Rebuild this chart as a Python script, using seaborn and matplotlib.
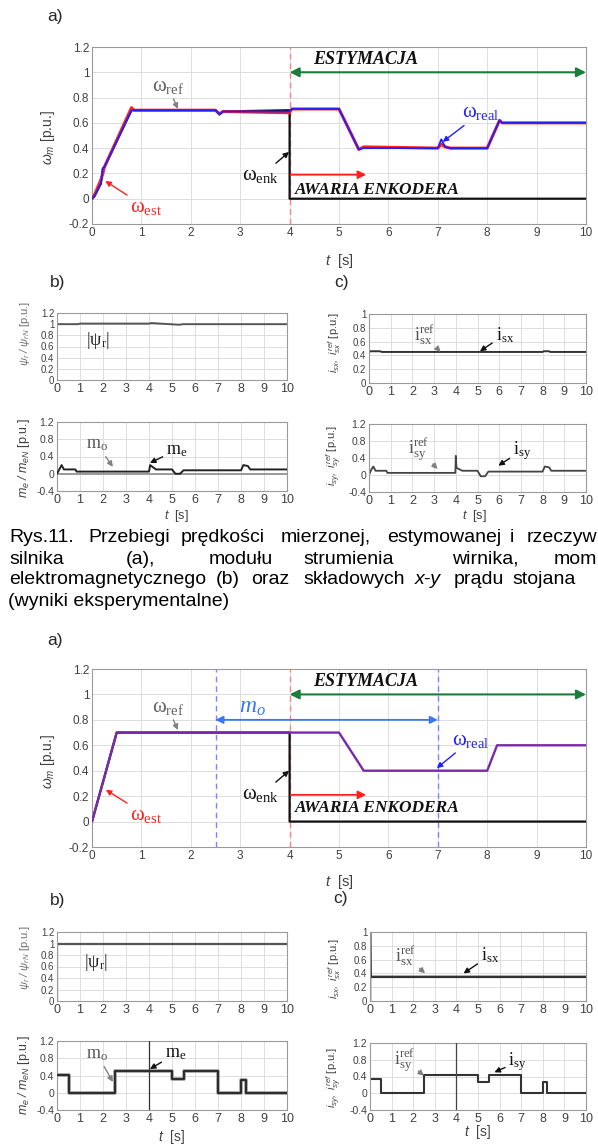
import matplotlib
matplotlib.use("Agg")
import matplotlib.pyplot as plt
import seaborn as sns

# ---------------- DATA ----------------
# Rys.11 (experiment) a) speed curves
exp_t = [0.0, 0.05, 0.18, 0.22, 0.25, 0.8, 0.85, 2.5, 2.58, 2.65, 3.99, 4.05, 5.0, 5.4, 5.5,
         7.0, 7.07, 7.15, 7.25, 8.0, 8.25, 8.3, 10.0]
exp_w_real = [0.0, 0.02, 0.12, 0.24, 0.25, 0.70, 0.70, 0.70, 0.665, 0.69, 0.69, 0.71, 0.71, 0.39, 0.40,
              0.40, 0.47, 0.41, 0.40, 0.40, 0.62, 0.60, 0.60]
exp_w_est = [0.0, 0.03, 0.15, 0.20, 0.25, 0.72, 0.70, 0.70, 0.67, 0.69, 0.68, 0.71, 0.71, 0.39, 0.41,
             0.40, 0.43, 0.41, 0.40, 0.40, 0.62, 0.60, 0.60]
exp_enk_t = [0.0, 0.05, 0.18, 0.22, 0.25, 0.8, 0.85, 2.5, 2.58, 2.65, 4.0, 4.0, 10.0]
exp_w_enk = [0.0, 0.02, 0.12, 0.24, 0.25, 0.70, 0.70, 0.70, 0.67, 0.69, 0.70, 0.0, 0.0]

# Rys.11 b) flux and torque
exp_psi_t = [0.0, 0.9, 1.0, 4.0, 4.1, 5.3, 5.5, 8.0, 10.0]
exp_psi = [1.0, 1.0, 1.01, 1.01, 1.02, 0.99, 1.0, 1.0, 1.0]
exp_me_t = [0.0, 0.1, 0.2, 0.3, 0.8, 0.85, 4.0, 4.05, 4.3, 5.0, 5.15, 5.35, 5.5, 8.0, 8.1, 8.3, 8.4, 10.0]
exp_me = [0.0, 0.1, 0.2, 0.1, 0.1, 0.05, 0.05, 0.2, 0.1, 0.1, 0.0, 0.0, 0.08, 0.08, 0.2, 0.18, 0.1, 0.1]
exp_mo_t = [0.0, 10.0]
exp_mo = [0.0, 0.0]

# Rys.11 c) stator current components
exp_isx_t = [0.0, 0.05, 0.5, 0.6, 8.0, 8.05, 8.3, 8.35, 10.0]
exp_isx = [0.44, 0.46, 0.46, 0.45, 0.45, 0.46, 0.46, 0.45, 0.45]
exp_isy_t = [0.0, 0.1, 0.2, 0.3, 0.8, 0.85, 3.98, 4.0, 4.03, 4.1, 4.3, 5.0, 5.15, 5.35, 5.5,
             8.0, 8.1, 8.3, 8.4, 10.0]
exp_isy = [0.0, 0.12, 0.2, 0.1, 0.1, 0.05, 0.05, 0.45, 0.18, 0.15, 0.1, 0.1, -0.03, -0.03, 0.08,
           0.08, 0.2, 0.18, 0.1, 0.1]

# simulation a)
sim_t = [0.0, 0.5, 5.0, 5.5, 8.0, 8.2, 10.0]
sim_w = [0.0, 0.7, 0.7, 0.4, 0.4, 0.6, 0.6]
sim_enk_t = [0.0, 0.5, 4.0, 4.0, 10.0]
sim_w_enk = [0.0, 0.7, 0.7, 0.0, 0.0]

# simulation b), c) (step levels between change times)
sim_psi_t = [0.0, 0.0, 10.0]
sim_psi = [0.0, 1.0, 1.0]
sim_step_t = [0.0, 0.5, 2.5, 5.0, 5.5, 7.0, 8.0, 8.2, 10.0]
sim_me_levels = [0.42, 0.0, 0.5, 0.33, 0.5, 0.0, 0.3, 0.0]
sim_isy_levels = [0.35, 0.0, 0.43, 0.27, 0.43, 0.0, 0.27, 0.0]
sim_isx_t = [0.0, 0.0, 0.02, 10.0]
sim_isx = [0.0, 1.0, 0.35, 0.35]

fault_t = 4.0
mo_window = [2.5, 7.0]
est_span = [4.0, 10.0]

x_ticks = list(range(11))
w_yticks = [-0.2, 0, 0.2, 0.4, 0.6, 0.8, 1, 1.2]
psi_yticks = [0, 0.2, 0.4, 0.6, 0.8, 1, 1.2]
me_yticks = [-0.4, 0, 0.4, 0.8, 1.2]
isx_yticks = [0, 0.2, 0.4, 0.6, 0.8, 1]

# ---------------- STYLE ----------------
sns.set_theme(style="whitegrid")
plt.rcParams['font.family'] = ['Liberation Sans', 'DejaVu Sans']
plt.rcParams['mathtext.fontset'] = 'custom'
plt.rcParams['mathtext.rm'] = 'Liberation Serif'
plt.rcParams['mathtext.it'] = 'Liberation Serif:italic'
plt.rcParams['mathtext.sf'] = 'Liberation Sans:italic'
plt.rcParams['mathtext.bf'] = 'Liberation Serif:bold'

W, H = 598, 1144
fig = plt.figure(figsize=(W / 100, H / 100), dpi=100)
fig.patch.set_facecolor('white')

GRAY = '#404040'
SERIF = 'Liberation Serif'


def px_axes(l, t, r, b):
    return fig.add_axes([l / W, 1 - b / H, (r - l) / W, (b - t) / H])


def style(ax, ylim, yticks, xfs, yfs):
    ax.set_facecolor('white')
    ax.set_xlim(0, 10)
    ax.set_ylim(*ylim)
    ax.set_xticks(x_ticks)
    ax.set_xticklabels([str(v) for v in x_ticks])
    ax.set_yticks(yticks)
    ax.set_yticklabels([f'{v:g}' for v in yticks])
    ax.tick_params(axis='x', labelsize=xfs, colors=GRAY, length=2, direction='in', pad=2)
    ax.tick_params(axis='y', labelsize=yfs, colors=GRAY, length=2, direction='in', pad=2)
    ax.grid(True, color='#dddddd', lw=0.7)
    for s in ax.spines.values():
        s.set_color('#9a9a9a')
        s.set_linewidth(0.8)
    ax.set_xlabel('')
    ax.set_ylabel('')


def line(ax, x, y, color, lw, z=2):
    sns.lineplot(x=x, y=y, ax=ax, color=color, lw=lw, estimator=None, sort=False,
                 legend=False, zorder=z)


def steps(times, levels):
    xs, ys = [], []
    for i, lv in enumerate(levels):
        xs += [times[i], times[i + 1]]
        ys += [lv, lv]
    return xs, ys


def ann(ax, txt, xy, xyt, color, fs, tcolor=None, **kw):
    ax.annotate(txt, xy=xy, xytext=xyt, color=tcolor or color, fontsize=fs, family=SERIF,
                ha='center', va='center',
                arrowprops=dict(arrowstyle='-|>', color=color, lw=1.0, mutation_scale=8,
                                shrinkA=0, shrinkB=0), **kw)


def speed_panel(ax, t, w_real, w_est, enk_t, w_enk, sim=False):
    style(ax, (-0.2, 1.2), w_yticks, 8.5, 8.5)
    ax.axvline(fault_t, color='#ff8080', lw=1.0, ls=(0, (4, 3)), zorder=1)
    line(ax, enk_t, w_enk, '#111111', 1.6, z=2)
    if sim:
        for v in mo_window:
            ax.axvline(v, color='#8080ff', lw=1.0, ls=(0, (4, 3)), zorder=1)
        line(ax, t, w_real, '#7a2aa8', 1.7, z=3)
    else:
        line(ax, t, w_est, '#ff2020', 2.2, z=3)
        line(ax, t, w_real, '#2020ff', 1.3, z=3)
    # ESTYMACJA arrow
    ax.annotate('', xy=(est_span[1], 1.0), xytext=(est_span[0], 1.0),
                arrowprops=dict(arrowstyle='<|-|>', color='#1b7d3a', lw=1.5, mutation_scale=14,
                                shrinkA=0, shrinkB=0))
    ax.text(5.53, 1.1 if not sim else 1.105, 'ESTYMACJA', family=SERIF, weight='bold', style='italic',
            fontsize=13, ha='center', va='center', color='#111111')
    ax.annotate('', xy=(5.55, 0.19 if not sim else 0.21), xytext=(4.02, 0.19 if not sim else 0.21),
                arrowprops=dict(arrowstyle='-|>', color='#ff2020', lw=1.3, mutation_scale=12,
                                shrinkA=0, shrinkB=0))
    ax.text(4.1, 0.07 if not sim else 0.11, 'AWARIA ENKODERA', family=SERIF, weight='bold',
            style='italic', fontsize=12.5, ha='left', va='center', color='#111111')
    ax.set_ylabel('')


def ylab(x, y, s, fs, color=GRAY):
    fig.text(x / W, 1 - y / H, s, rotation=90, ha='center', va='center', fontsize=fs, color=color)


def ftext(x, y, s, fs, ha='center', **kw):
    fig.text(x / W, 1 - y / H, s, ha=ha, va='center', fontsize=fs, **kw)


TLAB = r'$\mathsf{t}$  [s]'
C_RIGHT = 586

# ================= Rys.11 (top) =================
ax = px_axes(92, 47, 586, 224)
speed_panel(ax, exp_t, exp_w_real, exp_w_est, exp_enk_t, exp_w_enk)
ann(ax, r'ω$_{\rm ref}$', (1.74, 0.71), (1.53, 0.89), '#808080', 15, tcolor='#606060')
ann(ax, r'ω$_{\rm est}$', (0.27, 0.14), (1.1, -0.07), '#ff2020', 15)
ann(ax, r'ω$_{\rm enk}$', (3.99, 0.37), (3.42, 0.18), '#111111', 15)
ann(ax, r'ω$_{\rm real}$', (7.1, 0.45), (7.87, 0.68), '#2020ff', 15)
ylab(48, 137, r'$\mathsf{\omega_m}$ [p.u.]', 10)
ftext(339, 261, TLAB, 10.5, color=GRAY)
ftext(55, 17, 'a)', 12.5)

# b) flux
ax = px_axes(57, 313, 287, 380)
style(ax, (0, 1.2), psi_yticks, 9, 7)
line(ax, exp_psi_t, exp_psi, '#555555', 1.4)
ax.text(1.76, 0.7, r'|ψ$_{\rm r}$|', family=SERIF, fontsize=13, ha='center', va='center')
ylab(25, 333, r'$\mathsf{\psi_r\ /\ \psi_{rN}}$ [p.u.]', 8, color='#707070')

# b) torque
ax = px_axes(57, 422, 287, 491)
style(ax, (-0.4, 1.2), me_yticks, 9, 7.5)
line(ax, exp_mo_t, exp_mo, '#9a9a9a', 1.4)
line(ax, exp_me_t, exp_me, '#222222', 1.4, z=3)
ann(ax, r'm$_{\rm o}$', (2.43, 0.16), (1.76, 0.67), '#808080', 13, tcolor='#555555')
ann(ax, r'm$_{\rm e}$', (4.04, 0.25), (5.2, 0.55), '#111111', 13)
ylab(24, 458, r'$\mathsf{m_e\ /\ m_{eN}}$ [p.u.]', 9)
ftext(176, 516, TLAB, 9, color=GRAY)
ftext(58, 283, 'b)', 12.5)

# c) isx
ax = px_axes(369, 314, C_RIGHT, 383)
style(ax, (0, 1), isx_yticks, 9, 7)
line(ax, exp_isx_t, exp_isx, '#333333', 1.4)
ann(ax, r'i$_{\rm sx}^{\rm ref}$', (3.3, 0.45), (2.55, 0.7), '#808080', 13, tcolor='#555555')
ann(ax, r'i$_{\rm sx}$', (5.11, 0.46), (6.25, 0.7), '#111111', 13)
ylab(335, 343, r'$\mathsf{i_{sx},\ i_{sx}^{\ ref}}$ [p.u.]', 8)

# c) isy
ax = px_axes(369, 424, C_RIGHT, 492)
style(ax, (-0.4, 1.2), me_yticks, 9, 7.5)
line(ax, exp_isy_t, exp_isy, '#444444', 1.3)
ann(ax, r'i$_{\rm sy}^{\rm ref}$', (3.16, 0.14), (2.3, 0.6), '#808080', 13, tcolor='#555555')
ann(ax, r'i$_{\rm sy}$', (5.96, 0.22), (7.05, 0.58), '#111111', 13)
ylab(334, 456, r'$\mathsf{i_{sy},\ i_{sy}^{\ ref}}$ [p.u.]', 8)
ftext(474, 516, TLAB, 9, color=GRAY)
ftext(342, 283, 'c)', 12.5)

# ================= caption =================
CFS = 14
line1 = [('Rys.11.', 9), ('Przebiegi', 88), ('prędkości', 181), ('mierzonej,', 281),
         ('estymowanej', 387), ('i', 510)]
line2 = [('silnika', 9), ('(a),', 126), ('modułu', 209), ('strumienia', 303),
         ('wirnika,', 452)]
line3 = [('elektromagnetycznego', 9), ('(b)', 216), ('oraz', 251), ('składowych', 303),
         ('x-y', 415), ('prądu', 454), ('stojana', 512)]
line_ends = ['rzeczyw', 'mom']
for y, words in [(538, line1), (559, line2), (580, line3)]:
    for w, x in words:
        ftext(x, y, w, CFS, ha='left', color='black',
              style='italic' if w == 'x-y' else 'normal')
ftext(597, 538, line_ends[0], CFS, ha='right', color='black')
ftext(597, 559, line_ends[1], CFS, ha='right', color='black')
ftext(8, 602, '(wyniki eksperymentalne)', CFS, ha='left', color='black')

# ================= simulation (bottom) =================
ax = px_axes(92, 669, 586, 847)
speed_panel(ax, sim_t, sim_w, sim_w, sim_enk_t, sim_w_enk, sim=True)
ax.annotate('', xy=(mo_window[1], 0.8), xytext=(mo_window[0], 0.8),
            arrowprops=dict(arrowstyle='<|-|>', color='#3a78f0', lw=1.3, mutation_scale=11,
                            shrinkA=0, shrinkB=0))
ax.text(3.25, 0.9, r'$m_o$', fontsize=17, color='#3a78f0', ha='center', va='center')
ann(ax, r'ω$_{\rm ref}$', (1.74, 0.72), (1.53, 0.9), '#808080', 15, tcolor='#606060')
ann(ax, r'ω$_{\rm est}$', (0.28, 0.25), (1.1, 0.05), '#ff2020', 15)
ann(ax, r'ω$_{\rm enk}$', (3.99, 0.4), (3.42, 0.21), '#111111', 15)
ann(ax, r'ω$_{\rm real}$', (6.98, 0.42), (7.67, 0.64), '#2020ff', 15)
ylab(48, 761, r'$\mathsf{\omega_m}$ [p.u.]', 10)
ftext(339, 882, TLAB, 10.5, color=GRAY)
ftext(55, 641, 'a)', 12.5)

# b) flux
ax = px_axes(57, 932, 287, 1001)
style(ax, (0, 1.2), psi_yticks, 9, 7)
line(ax, sim_psi_t, sim_psi, '#555555', 1.6)
ax.text(1.7, 0.67, r'|ψ$_{\rm r}$|', family=SERIF, fontsize=13, ha='center', va='center')
ylab(25, 957, r'$\mathsf{\psi_r\ /\ \psi_{rN}}$ [p.u.]', 8, color='#707070')

# b) torque
ax = px_axes(57, 1041, 287, 1110)
style(ax, (-0.4, 1.2), me_yticks, 9, 7.5)
mx, my = steps(sim_step_t, sim_me_levels)
line(ax, mx, my, '#9a9a9a', 2.6)
line(ax, mx, my, '#222222', 1.3, z=3)
line(ax, [fault_t, fault_t], [-0.4, 1.2], '#333333', 0.9, z=3)
ann(ax, r'm$_{\rm o}$', (2.43, 0.25), (1.76, 0.88), '#808080', 13, tcolor='#555555')
ann(ax, r'm$_{\rm e}$', (4.04, 0.55), (5.15, 0.9), '#111111', 13)
ylab(24, 1075, r'$\mathsf{m_e\ /\ m_{eN}}$ [p.u.]', 9)
ftext(172, 1137, TLAB, 10, color=GRAY)
ftext(58, 900, 'b)', 12.5)

# c) isx
ax = px_axes(370, 932, C_RIGHT, 1001)
style(ax, (0, 1), isx_yticks, 9, 7)
line(ax, sim_isx_t, sim_isx, '#333333', 1.8)
ann(ax, r'i$_{\rm sx}^{\rm ref}$', (2.55, 0.4), (1.65, 0.66), '#808080', 13, tcolor='#555555')
ann(ax, r'i$_{\rm sx}$', (4.33, 0.4), (5.55, 0.66), '#111111', 13)
ylab(335, 969, r'$\mathsf{i_{sx},\ i_{sx}^{\ ref}}$ [p.u.]', 8)

# c) isy
ax = px_axes(370, 1043, C_RIGHT, 1110)
style(ax, (-0.4, 1.2), me_yticks, 9, 7.5)
sx, sy = steps(sim_step_t, sim_isy_levels)
line(ax, sx, sy, '#333333', 1.5)
line(ax, [fault_t, fault_t], [-0.4, 1.2], '#444444', 0.9, z=3)
ann(ax, r'i$_{\rm sy}^{\rm ref}$', (2.5, 0.42), (1.6, 0.8), '#808080', 13, tcolor='#555555')
ann(ax, r'i$_{\rm sy}$', (5.76, 0.5), (6.83, 0.75), '#111111', 13)
ylab(334, 1078, r'$\mathsf{i_{sy},\ i_{sy}^{\ ref}}$ [p.u.]', 8)
ftext(478, 1132, TLAB, 10, color=GRAY)
ftext(340, 898, 'c)', 12.5)

fig.savefig('out.png', dpi=100, facecolor='white')
